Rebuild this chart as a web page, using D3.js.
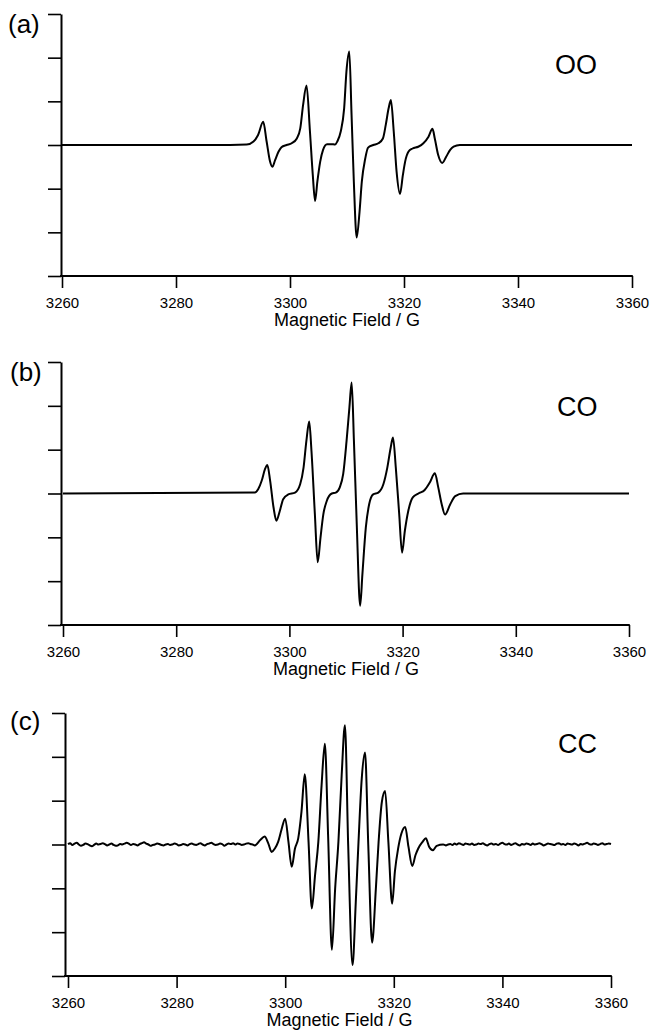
<!DOCTYPE html>
<html>
<head>
<meta charset="utf-8">
<script src="https://cdn.jsdelivr.net/npm/d3@7"></script>
<style>
  body { margin: 0; background: #fff; }
  svg { display: block; font-family: "Liberation Sans", Arial, Helvetica, sans-serif; }
</style>
</head>
<body>
<div id="chart"></div>
<script>
// Axis ticks: magnetic field (G) and intensity (arbitrary units, unlabeled).
var fieldTicks = [3260, 3280, 3300, 3320, 3340, 3360];
var intensityTicks = [-3, -2, -1, 0, 1, 2, 3];
var panelLabels = ["(a)", "(b)", "(c)"];
var sampleNames = ["OO", "CO", "CC"];
var axisTitle = "Magnetic Field / G";

// EPR spectra, as [field (G), signal (a.u.)].
var ooSpectrum = [
  [3260, 0], [3289.5, 0], [3292.4, 0.01], [3293.6, 0.08], [3294.4, 0.23],
  [3295.3, 0.53], [3295.9, 0.08], [3296.5, -0.38], [3296.9, -0.50], [3297.4, -0.34],
  [3298.0, -0.15], [3298.5, -0.05], [3299.4, 0], [3300.3, 0.04], [3301.2, 0.15],
  [3301.8, 0.38], [3302.3, 0.92], [3302.9, 1.36], [3303.5, 0.31], [3304.0, -0.69],
  [3304.4, -1.28], [3304.8, -0.84], [3305.3, -0.38], [3305.8, -0.11], [3306.5, 0.02],
  [3307.3, 0.02], [3307.9, 0.01], [3308.3, 0.08], [3308.9, 0.31], [3309.5, 0.84],
  [3309.9, 1.68], [3310.4, 2.14], [3310.8, 0.69], [3311.2, -0.84], [3311.7, -2.12],
  [3312.2, -1.53], [3312.6, -0.84], [3313.2, -0.31], [3313.7, -0.06], [3314.6, 0],
  [3315.5, 0.04], [3316.3, 0.15], [3316.8, 0.46], [3317.3, 0.84], [3317.7, 1.03],
  [3318.2, 0.31], [3318.7, -0.61], [3319.3, -1.12], [3319.8, -0.69], [3320.2, -0.38],
  [3320.8, -0.15], [3321.5, -0.08], [3322.5, -0.04], [3323.4, 0.04], [3324.3, 0.19],
  [3325.0, 0.37], [3325.4, 0.15], [3326.0, -0.23], [3326.7, -0.41], [3327.4, -0.27],
  [3328.1, -0.11], [3328.7, -0.04], [3329.8, 0], [3360, 0]
];

var coSpectrum = [
  [3260, 0], [3293.9, 0.02], [3294.5, 0.10], [3295.1, 0.29], [3295.7, 0.56],
  [3296.1, 0.65], [3296.6, 0.29], [3297.2, -0.32], [3297.7, -0.62], [3298.3, -0.40],
  [3298.9, -0.13], [3299.8, -0.02], [3301.0, 0.02], [3301.9, 0.21], [3302.5, 0.59],
  [3303.0, 1.20], [3303.5, 1.64], [3303.9, 0.97], [3304.5, -0.47], [3305.0, -1.57],
  [3305.5, -1.00], [3306.0, -0.47], [3306.6, -0.17], [3307.5, 0], [3308.2, 0.02],
  [3308.9, 0.14], [3309.5, 0.44], [3310.1, 1.20], [3310.6, 1.96], [3311.0, 2.53],
  [3311.4, 1.20], [3311.9, -0.70], [3312.5, -2.56], [3312.9, -1.84], [3313.5, -0.78],
  [3314.1, -0.24], [3314.8, -0.02], [3315.7, 0.02], [3316.6, 0.21], [3317.3, 0.59],
  [3317.9, 1.05], [3318.3, 1.28], [3318.8, 0.59], [3319.4, -0.47], [3319.9, -1.35],
  [3320.4, -0.85], [3321.0, -0.40], [3321.8, -0.09], [3322.8, 0], [3323.9, 0.08],
  [3324.8, 0.25], [3325.7, 0.46], [3326.3, 0.14], [3326.9, -0.24], [3327.5, -0.48],
  [3328.4, -0.25], [3329.3, -0.06], [3330.7, 0], [3360, 0]
];

var ccSpectrum = [
  [3294.4, -0.02], [3295.4, 0.10], [3296.2, 0.18], [3296.9, 0.02], [3297.5, -0.17],
  [3298.1, -0.09], [3298.7, 0.06], [3299.3, 0.33], [3300.0, 0.59], [3300.6, 0.06],
  [3301.2, -0.51], [3301.8, -0.09], [3302.4, 0.14], [3303.0, 0.75], [3303.6, 1.60],
  [3304.3, 0.06], [3304.9, -1.46], [3305.5, -0.70], [3306.1, 0.06], [3306.7, 1.35],
  [3307.3, 2.30], [3307.9, 0.21], [3308.6, -2.40], [3309.2, -1.00], [3309.8, 0.06],
  [3310.4, 1.58], [3311.0, 2.72], [3311.6, -0.02], [3312.4, -2.75], [3313.0, -1.31],
  [3313.5, 0.06], [3314.1, 1.51], [3314.7, 2.10], [3315.3, -0.02], [3316.0, -2.24],
  [3316.7, -1.00], [3317.2, 0.06], [3317.8, 0.97], [3318.4, 1.22], [3319.0, 0.06],
  [3319.7, -1.35], [3320.2, -0.62], [3320.8, -0.09], [3321.4, 0.25], [3322.1, 0.40],
  [3322.7, -0.05], [3323.4, -0.49], [3324.0, -0.24], [3324.5, -0.09], [3325.3, 0.06],
  [3325.9, 0.14], [3326.5, -0.05], [3327.2, -0.13], [3327.9, -0.03], [3329.1, 0]
];

// Baseline noise of the CC trace, one reading every 0.4 G.
var ccNoiseLeftStart = 3260, ccNoiseRightStart = 3329.6, ccNoiseStep = 0.4;
var ccNoiseLeft = [
  0.01, 0.03, -0.01, 0.02, 0.04, 0.00, -0.03, -0.01, 0.02, 0.01,
  -0.02, -0.04, -0.01, 0.02, 0.00, 0.01, 0.03, 0.01, -0.02, 0.00,
  0.02, -0.01, -0.03, -0.02, 0.01, 0.00, 0.02, 0.04, 0.02, -0.01,
  0.01, 0.00, -0.02, 0.01, 0.03, 0.05, 0.02, 0.00, -0.03, -0.01,
  0.00, 0.02, 0.01, -0.01, -0.02, 0.00, 0.01, -0.01, 0.00, 0.02,
  0.01, -0.02, -0.01, 0.01, 0.00, -0.02, 0.01, 0.02, 0.00, -0.01,
  0.01, 0.03, 0.00, -0.02, 0.01, 0.02, 0.04, 0.01, -0.01, 0.00,
  0.02, 0.01, -0.03, 0.00, 0.02, 0.01, 0.03, 0.00, 0.02, 0.01,
  -0.01, 0.00, 0.02, 0.03, 0.01, 0.00
];
var ccNoiseRight = [
  -0.02, 0.00, 0.01, -0.01, 0.02, 0.00, 0.03, 0.01, -0.01, 0.02,
  0.01, 0.00, 0.02, -0.01, 0.00, 0.02, 0.01, 0.03, 0.00, -0.02,
  0.01, 0.02, 0.00, 0.01, -0.01, 0.02, 0.04, 0.01, 0.00, 0.02,
  -0.01, 0.01, 0.03, 0.00, -0.02, 0.01, 0.00, 0.02, 0.01, -0.01,
  0.02, 0.00, 0.01, 0.03, 0.01, -0.02, 0.00, 0.02, 0.01, 0.00,
  -0.01, 0.02, 0.03, 0.00, 0.01, -0.01, 0.02, 0.01, 0.00, 0.02,
  0.01, -0.02, 0.01, 0.00, 0.02, 0.04, 0.01, 0.00, 0.02, 0.01,
  -0.01, 0.01, 0.03, 0.00, 0.01, 0.02, 0.01
];

var ccFull = ccNoiseLeft.map(function (v, i) { return [ccNoiseLeftStart + i * ccNoiseStep, v]; })
  .concat(ccSpectrum)
  .concat(ccNoiseRight.map(function (v, i) { return [ccNoiseRightStart + i * ccNoiseStep, v]; }));

var spectra = [ooSpectrum, coSpectrum, ccFull];

// Page layout of the three stacked panels (pixels).
var layout = [
  { x0: 62, x1: 632, axisX: 61, top: 14,  bottom: 276, labelX: 8,  labelY: 33,  nameX: 555, nameY: 74 },
  { x0: 63, x1: 629, axisX: 61, top: 362, bottom: 625, labelX: 10, labelY: 381, nameX: 557, nameY: 416 },
  { x0: 68, x1: 611, axisX: 65, top: 713, bottom: 976, labelX: 10, labelY: 730, nameX: 558, nameY: 753 }
];

var width = 650, height = 1032;

var svg = d3.select("#chart").append("svg")
  .attr("width", width)
  .attr("height", height);

layout.forEach(function (l, i) {
  var g = svg.append("g");

  var x = d3.scaleLinear().domain([3260, 3360]).range([l.x0, l.x1]),
      y = d3.scaleLinear().domain([-3, 3]).range([l.bottom, l.top]);

  // Intensity axis: ticks only, no labels.
  var ya = g.append("g")
    .attr("transform", "translate(" + l.axisX + ",0)")
    .call(d3.axisLeft(y).tickValues(intensityTicks).tickSize(13).tickSizeOuter(0).tickFormat(""));
  ya.select(".domain").attr("stroke-width", 2);
  ya.selectAll(".tick line").attr("stroke-width", 1.6);

  // Field axis.
  var xa = g.append("g")
    .attr("transform", "translate(0," + l.bottom + ")")
    .call(d3.axisBottom(x).tickValues(fieldTicks).tickSize(12).tickSizeOuter(0).tickPadding(9).tickFormat(d3.format("d")));
  xa.select(".domain").remove();
  xa.selectAll(".tick line").attr("stroke-width", 1.6);
  xa.selectAll(".tick text")
    .attr("font-family", "'Liberation Sans', Arial, sans-serif")
    .attr("font-size", 15)
    .attr("fill", "#000");
  g.append("line")
    .attr("x1", l.axisX - 1).attr("x2", x(3360) + 0.8)
    .attr("y1", l.bottom).attr("y2", l.bottom)
    .attr("stroke", "#000").attr("stroke-width", 2);

  g.append("text")
    .attr("x", x(3310))
    .attr("y", l.bottom + 50)
    .attr("text-anchor", "middle")
    .attr("font-size", 18)
    .text(axisTitle);

  // Spectrum trace.
  var line = d3.line()
    .x(function (d) { return x(d[0]); })
    .y(function (d) { return y(d[1]); })
    .curve(d3.curveMonotoneX);

  g.append("path")
    .datum(spectra[i])
    .attr("d", line)
    .attr("fill", "none")
    .attr("stroke", "#000")
    .attr("stroke-width", 2)
    .attr("stroke-linejoin", "round");

  g.append("text")
    .attr("x", l.labelX)
    .attr("y", l.labelY)
    .attr("font-size", 26)
    .text(panelLabels[i]);

  g.append("text")
    .attr("x", l.nameX)
    .attr("y", l.nameY)
    .attr("font-size", 27)
    .text(sampleNames[i]);
});
</script>
</body>
</html>
